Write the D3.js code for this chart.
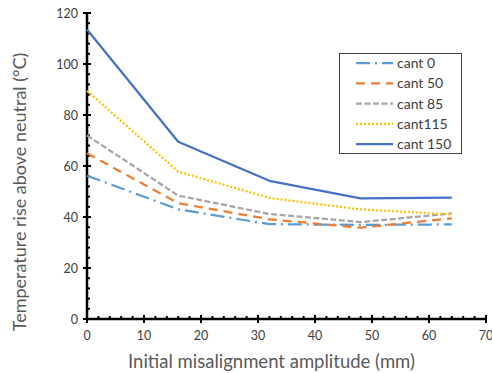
<!DOCTYPE html>
<html><head><meta charset="utf-8">
<script src="https://cdn.jsdelivr.net/npm/d3@7"></script>
<style>body{margin:0;background:#fff}svg{display:block}</style>
</head><body><svg id="c" width="492" height="373"></svg>
<script>
const xValues = [0, 16, 32, 48, 64];
const seriesNames = ["cant 0", "cant 50", "cant 85", "cant115", "cant 150"];
const cant0 = [56.2, 43.0, 37.2, 36.9, 37.1];
const cant50 = [65.0, 45.4, 39.1, 35.8, 39.5];
const cant85 = [72.0, 48.4, 41.2, 38.0, 41.4];
const cant115 = [89.5, 57.8, 47.5, 43.0, 41.0];
const cant150 = [113.5, 69.5, 54.2, 47.3, 47.6];
const xTicks = [0, 10, 20, 30, 40, 50, 60, 70];
const yTicks = [0, 20, 40, 60, 80, 100, 120];
const colors = ["#5B9BD5", "#ED7D31", "#A5A5A5", "#FFC000", "#4472C4"];
const dashes = ["14,5,2,5", "9,6", "6,2.5", "2,2", null];
const seriesVals = [cant0, cant50, cant85, cant115, cant150];

const svg = d3.select("#c");
const font = "Lato, 'Open Sans', sans-serif";
const x = d3.scaleLinear().domain([0, 70]).range([87, 486]);
const y = d3.scaleLinear().domain([0, 120]).range([319, 13]);

const gx = svg.append("g");
gx.selectAll("line.mx").data(d3.range(0, 70.01, 2)).join("line")
  .attr("x1", d => x(d)).attr("x2", d => x(d)).attr("y1", y(0)).attr("y2", y(0) - 3)
  .attr("stroke", "#000").attr("stroke-width", 2);
gx.selectAll("line.Mx").data(xTicks).join("line")
  .attr("x1", d => x(d)).attr("x2", d => x(d)).attr("y1", y(0) - 4).attr("y2", y(0) + 4)
  .attr("stroke", "#000").attr("stroke-width", 2);
gx.selectAll("text").data(xTicks).join("text")
  .attr("x", d => x(d)).attr("y", 340).attr("text-anchor", "middle")
  .attr("font-family", font).attr("font-size", 12.5).attr("fill", "#404040").text(d => d);

const gy = svg.append("g");
gy.selectAll("line.my").data(d3.range(0, 120.01, 4)).join("line")
  .attr("x1", x(0)).attr("x2", x(0) + 3).attr("y1", d => y(d)).attr("y2", d => y(d))
  .attr("stroke", "#000").attr("stroke-width", 2);
gy.selectAll("line.My").data(yTicks).join("line")
  .attr("x1", x(0) - 4).attr("x2", x(0) + 4).attr("y1", d => y(d)).attr("y2", d => y(d))
  .attr("stroke", "#000").attr("stroke-width", 2);
gy.selectAll("text").data(yTicks).join("text")
  .attr("x", 78).attr("y", d => y(d) + 4.5).attr("text-anchor", "end")
  .attr("font-family", font).attr("font-size", 12.5).attr("fill", "#404040").text(d => d);

svg.append("line").attr("x1", x(0)).attr("x2", x(70)).attr("y1", y(0)).attr("y2", y(0))
  .attr("stroke", "#000").attr("stroke-width", 2.5);
svg.append("line").attr("x1", x(0)).attr("x2", x(0)).attr("y1", y(0)).attr("y2", y(120))
  .attr("stroke", "#000").attr("stroke-width", 2.5);

const line = d3.line().x((d, i) => x(xValues[i])).y(d => y(d));
seriesVals.forEach((vals, i) => {
  svg.append("path").attr("d", line(vals)).attr("fill", "none")
    .attr("stroke", colors[i]).attr("stroke-width", 2.25)
    .attr("stroke-dasharray", dashes[i]).attr("stroke-linejoin", "round");
});

svg.append("text").attr("x", 271.5).attr("y", 368).attr("text-anchor", "middle")
  .attr("font-family", font).attr("font-size", 18.5).attr("fill", "#595959")
  .text("Initial misalignment amplitude (mm)");
svg.append("text").attr("transform", "translate(26,192) rotate(-90)").attr("text-anchor", "middle")
  .attr("font-family", font).attr("font-size", 18).attr("fill", "#595959")
  .text("Temperature rise above neutral (°C)");

const lg = svg.append("g");
lg.append("rect").attr("x", 339.5).attr("y", 53.5).attr("width", 122).attr("height", 100)
  .attr("fill", "#fff").attr("stroke", "#404040").attr("stroke-width", 1);
seriesNames.forEach((n, i) => {
  const yy = 63 + i * 20.3;
  lg.append("line").attr("x1", 356).attr("x2", 393).attr("y1", yy).attr("y2", yy)
    .attr("stroke", colors[i]).attr("stroke-width", 2.25).attr("stroke-dasharray", dashes[i]);
  lg.append("text").attr("x", 397).attr("y", yy + 5).attr("font-family", font)
    .attr("font-size", 14).attr("fill", "#404040").text(n);
});
</script></body></html>
